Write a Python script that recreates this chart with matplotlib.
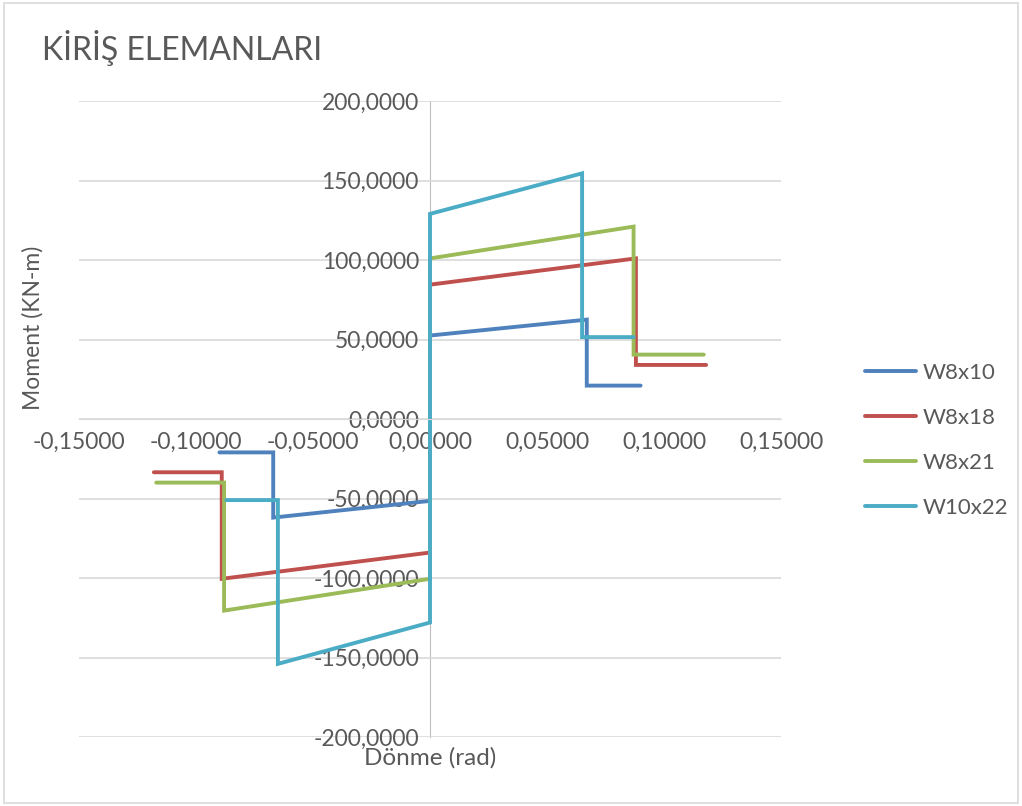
import matplotlib.pyplot as plt
from matplotlib.ticker import FuncFormatter, MultipleLocator

# Moment-rotation curves for the beam sections (rad, KN-m)
labels = ['W8x10', 'W8x18', 'W8x21', 'W10x22']
colors = ['#4F81BD', '#C0504D', '#9BBB59', '#4BACC6']

w8x10_rot = [-0.090, -0.067, -0.067, 0.000, 0.000, 0.067, 0.067, 0.090]
w8x10_mom = [-21.0, -21.0, -62.0, -51.5, 52.5, 62.5, 21.0, 21.0]

w8x18_rot = [-0.118, -0.089, -0.089, 0.000, 0.000, 0.088, 0.088, 0.118]
w8x18_mom = [-33.5, -33.5, -100.5, -84.0, 84.5, 101.0, 34.0, 34.0]

w8x21_rot = [-0.117, -0.088, -0.088, 0.000, 0.000, 0.087, 0.087, 0.117]
w8x21_mom = [-40.0, -40.0, -120.5, -100.5, 101.0, 121.0, 40.5, 40.5]

w10x22_rot = [-0.087, -0.065, -0.065, 0.000, 0.000, 0.065, 0.065, 0.087]
w10x22_mom = [-51.0, -51.0, -154.0, -128.0, 129.0, 154.5, 51.5, 51.5]

series = [(w8x10_rot, w8x10_mom), (w8x18_rot, w8x18_mom),
          (w8x21_rot, w8x21_mom), (w10x22_rot, w10x22_mom)]

txt = '#595959'
grid = '#D9D9D9'
plt.rcParams['font.family'] = ['Lato', 'DejaVu Sans']

fig = plt.figure(figsize=(10.22, 8.06), dpi=100)
ax = fig.add_axes([79 / 1022, 1 - 737 / 806, 702 / 1022, 636 / 806])

for (x, y), lab, c in zip(series, labels, colors):
    ax.plot(x, y, color=c, lw=2.8, label=lab, solid_capstyle='round',
            solid_joinstyle='miter')

ax.set_xlim(-0.15, 0.15)
ax.set_ylim(-200, 200)
ax.xaxis.set_major_locator(MultipleLocator(0.05))
ax.yaxis.set_major_locator(MultipleLocator(50))
ax.xaxis.set_major_formatter(FuncFormatter(lambda v, p: f'{v:.5f}'.replace('.', ',').replace('-0,00000', '0,00000')))
ax.yaxis.set_major_formatter(FuncFormatter(lambda v, p: f'{v:.4f}'.replace('.', ',').replace('-0,0000', '0,0000')))

# axes cross at the origin, Excel style
ax.spines['left'].set_position(('data', 0))
ax.spines['bottom'].set_position(('data', 0))
ax.spines['right'].set_visible(False)
ax.spines['top'].set_visible(False)
ax.spines['left'].set_color('#BFBFBF')
ax.spines['bottom'].set_color(grid)
ax.spines['left'].set_zorder(0.5)
ax.yaxis.grid(True, color=grid, lw=1.2)
ax.set_axisbelow(True)
ax.tick_params(length=0, labelsize=16.5, labelcolor=txt)
ax.tick_params(axis='x', pad=9)
ax.tick_params(axis='y', pad=8)

fig.text(42 / 1022, 1 - 48 / 806, 'KİRİŞ ELEMANLARI', fontsize=23, color=txt,
         va='center', ha='left')
fig.text(33 / 1022, 1 - 328 / 806, 'Moment (KN-m)', fontsize=16.5, color=txt,
         rotation=90, va='center', ha='center')
fig.text(430 / 1022, 1 - 758 / 806, 'Dönme (rad)', fontsize=17.5, color=txt,
         va='center', ha='center')

leg = fig.legend(loc='upper left', bbox_to_anchor=(845 / 1022, 1 - 343 / 806),
                 frameon=False, fontsize=16, handlelength=2.3, labelspacing=1.12,
                 handletextpad=0.3)
for t in leg.get_texts():
    t.set_color(txt)

# chart border
fig.patches.append(plt.Rectangle((0.004, 0.004), 0.992, 0.992, transform=fig.transFigure,
                                 fill=False, edgecolor=grid, lw=1.2))

fig.savefig('out.png', dpi=100)
